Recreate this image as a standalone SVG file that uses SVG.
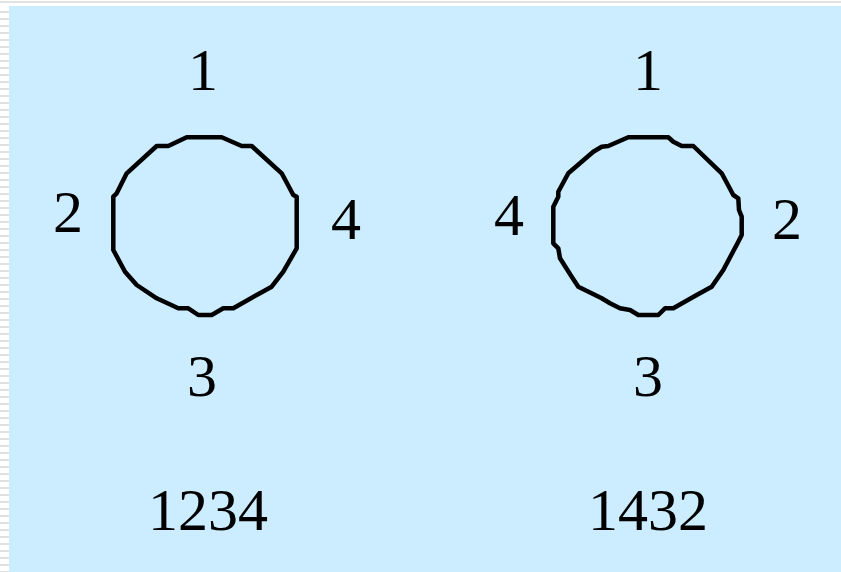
<svg xmlns="http://www.w3.org/2000/svg" width="841" height="572" viewBox="0 0 841 572">
<style>
.lbl{font-family:"Liberation Serif","Times New Roman",serif;font-size:60px;fill:#000;text-anchor:middle}
.ring{fill:none;stroke:#000;stroke-width:4.5;stroke-linejoin:round}
</style>
<defs>
<pattern id="stripes" x="0" y="0" width="9" height="7" patternUnits="userSpaceOnUse">
<rect width="9" height="7" fill="#ffffff"/>
<rect y="4" width="9" height="2" fill="#e0e0e0"/>
</pattern>
</defs>
<rect width="841" height="572" fill="#ffffff"/>
<rect x="0" y="6" width="9" height="566" fill="url(#stripes)"/>
<rect x="0" y="1" width="841" height="2" fill="#e3e3e3"/>
<rect x="9" y="6" width="832" height="566" fill="#CCECFF"/>
<g id="left-ring">
<polygon class="ring" points="186.7,137.3 221.7,137.3 241.7,146 251.7,146 281.7,173.3 293.3,195 296.7,196.7 296.7,248.3 283.3,271.7 271.7,286.7 256.7,295 233.3,308.3 223.3,308.3 211.7,315 198.3,315 188.3,308.3 178.3,308.3 156.7,298.3 136.7,285 125,271.7 113.3,250 113.3,196.7 116.7,193.3 126.7,173.3 156.7,146 168.3,146"/>
<text class="lbl" x="203" y="90">1</text>
<text class="lbl" x="68" y="232">2</text>
<text class="lbl" x="202" y="396">3</text>
<text class="lbl" x="346" y="239">4</text>
<text class="lbl" x="208" y="530">1234</text>
</g>
<g id="right-ring">
<polygon class="ring" points="628.3,137.3 668.3,137.3 673.3,141.7 681.7,146 693.3,146 721.7,173.3 733.3,195 738.3,198.3 739,210 741.7,216.7 741.7,235 738.3,241.7 723.3,270 711.7,286.7 696.7,295 673.3,308.3 665,308.3 658.3,315 638.3,315 630,310 620,308.3 610,303.3 601.7,298.3 578.3,286.7 571.7,276.7 560,258.3 558.3,248.3 553.3,243.3 553.3,206.7 558.3,196.7 558.3,191.7 568.3,173.3 593.3,151.7 601.7,146.7 608.3,146"/>
<text class="lbl" x="648" y="90">1</text>
<text class="lbl" x="509" y="235">4</text>
<text class="lbl" x="648" y="396">3</text>
<text class="lbl" x="787" y="239">2</text>
<text class="lbl" x="648" y="530">1432</text>
</g>
</svg>
